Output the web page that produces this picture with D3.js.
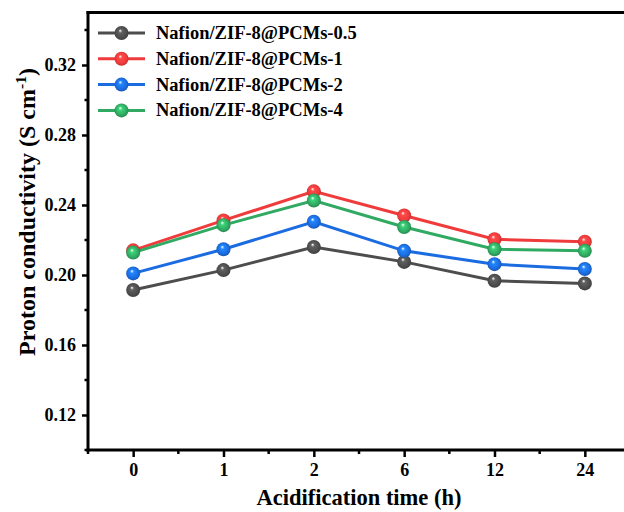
<!DOCTYPE html>
<html>
<head>
<meta charset="utf-8">
<script src="https://cdn.jsdelivr.net/npm/d3@7"></script>
<style>
  body { margin: 0; background: #fff; }
  text { font-family: "Liberation Serif", "Times New Roman", serif; font-weight: bold; }
</style>
</head>
<body>
<script>
var times = ["0", "1", "2", "6", "12", "24"];
var seriesNames = ["Nafion/ZIF-8@PCMs-0.5", "Nafion/ZIF-8@PCMs-1", "Nafion/ZIF-8@PCMs-2", "Nafion/ZIF-8@PCMs-4"];
var seriesColors = ["#4d4d4d", "#ef3b3b", "#1b6ce0", "#30aa62"];
var pcms05 = [0.1914, 0.2028, 0.2160, 0.2075, 0.1967, 0.1952];
var pcms1 = [0.2141, 0.2312, 0.2478, 0.2340, 0.2204, 0.2190];
var pcms2 = [0.2009, 0.2147, 0.2304, 0.2138, 0.2062, 0.2034];
var pcms4 = [0.2128, 0.2285, 0.2426, 0.2274, 0.2147, 0.2138];
var yTicks = [0.12, 0.16, 0.20, 0.24, 0.28, 0.32];
var yMinorTicks = [0.10, 0.14, 0.18, 0.22, 0.26, 0.30, 0.34];
var allSeries = [pcms05, pcms1, pcms2, pcms4];

var width = 624, height = 512;
var plotLeft = 88, plotRight = 630, plotTop = 12.5, plotBottom = 450;

var svg = d3.select("body").append("svg")
	.attr("width", width)
	.attr("height", height);

var defs = svg.append("defs");
seriesColors.forEach(function(c, i) {
	var g = defs.append("radialGradient")
		.attr("id", "ball" + i)
		.attr("cx", "50%").attr("cy", "50%").attr("r", "55%")
		.attr("fx", "40%").attr("fy", "32%");
	g.append("stop").attr("offset", "0%").attr("stop-color", "#ffffff");
	g.append("stop").attr("offset", "25%").attr("stop-color", d3.color(c).brighter(0.6));
	g.append("stop").attr("offset", "70%").attr("stop-color", c);
	g.append("stop").attr("offset", "100%").attr("stop-color", d3.color(c).darker(0.8));
});

var x = d3.scalePoint().domain(times).range([plotLeft, plotRight]).padding(0.5);
var y = d3.scaleLinear().domain([0.10, 0.35]).range([plotBottom, plotTop]);

// top border of the frame
svg.append("line")
	.attr("x1", plotLeft - 1.5).attr("x2", width).attr("y1", plotTop).attr("y2", plotTop)
	.attr("stroke", "#000").attr("stroke-width", 3);

// y axis
var yAxis = svg.append("g").attr("transform", "translate(" + plotLeft + ",0)")
	.call(d3.axisLeft(y).tickValues(yTicks).tickFormat(d3.format(".2f")).tickSize(6).tickSizeOuter(0));
svg.append("g").selectAll("line")
	.data(yMinorTicks)
	.enter().append("line")
	.attr("x1", plotLeft - 3.5).attr("x2", plotLeft)
	.attr("y1", function(d) { return y(d); }).attr("y2", function(d) { return y(d); })
	.attr("stroke", "#000").attr("stroke-width", 2.5);

// x axis
var xAxis = svg.append("g").attr("transform", "translate(0," + plotBottom + ")")
	.call(d3.axisBottom(x).tickSize(7).tickSizeOuter(0));
var step = x.step();
var xMinor = times.map(function(t) { return x(t) - step / 2; });
svg.append("g").selectAll("line")
	.data(xMinor)
	.enter().append("line")
	.attr("x1", function(d) { return d; }).attr("x2", function(d) { return d; })
	.attr("y1", plotBottom).attr("y2", plotBottom + 4)
	.attr("stroke", "#000").attr("stroke-width", 2.5);

[yAxis, xAxis].forEach(function(a) {
	a.select(".domain").attr("stroke", "#000").attr("stroke-width", 3);
	a.selectAll(".tick line").attr("stroke", "#000").attr("stroke-width", 2.5);
	a.selectAll(".tick text").attr("fill", "#000").style("font-size", "18px");
});
yAxis.selectAll(".tick text").attr("x", -12);
xAxis.selectAll(".tick text").attr("y", 13);
xAxis.select(".domain").attr("d", "M" + (plotLeft - 1.5) + ",0H" + width);
yAxis.select(".domain").attr("d", "M0," + (plotBottom + 1.5) + "V" + (plotTop - 1.5));

// lines and markers
var line = d3.line()
	.x(function(d, i) { return x(times[i]); })
	.y(function(d) { return y(d); });

allSeries.forEach(function(s, k) {
	svg.append("path")
		.datum(s)
		.attr("d", line)
		.attr("fill", "none")
		.attr("stroke", seriesColors[k])
		.attr("stroke-width", 3);
});
allSeries.forEach(function(s, k) {
	svg.append("g").selectAll("circle")
		.data(s)
		.enter().append("circle")
		.attr("cx", function(d, i) { return x(times[i]); })
		.attr("cy", function(d) { return y(d); })
		.attr("r", 7)
		.attr("fill", "url(#ball" + k + ")");
});

// legend
var legend = svg.append("g");
seriesNames.forEach(function(name, k) {
	var ly = 33 + k * 25.8;
	legend.append("line")
		.attr("x1", 98).attr("x2", 145).attr("y1", ly).attr("y2", ly)
		.attr("stroke", seriesColors[k]).attr("stroke-width", 3);
	legend.append("circle")
		.attr("cx", 121.5).attr("cy", ly).attr("r", 7)
		.attr("fill", "url(#ball" + k + ")");
	legend.append("text")
		.attr("x", 156).attr("y", ly + 6)
		.style("font-size", "18.5px")
		.text(name);
});

// axis titles
svg.append("text")
	.attr("x", (plotLeft + plotRight) / 2).attr("y", 505)
	.attr("text-anchor", "middle")
	.style("font-size", "22.5px")
	.text("Acidification time (h)");

var yt = svg.append("text")
	.attr("transform", "translate(35,212) rotate(-90)")
	.attr("text-anchor", "middle")
	.style("font-size", "24px");
yt.append("tspan").text("Proton conductivity (S cm");
yt.append("tspan").attr("dy", -9).style("font-size", "15.5px").text("-1");
yt.append("tspan").attr("dy", 9).text(")");
</script>
</body>
</html>
